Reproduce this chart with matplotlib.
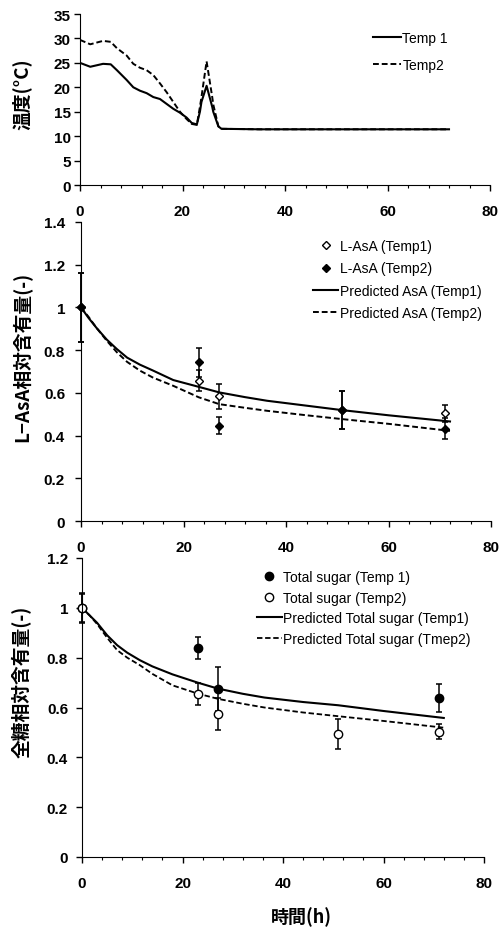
import numpy as np
import matplotlib
matplotlib.use('Agg')
import matplotlib.pyplot as plt
from matplotlib.ticker import MultipleLocator, FormatStrFormatter

plt.rcParams['font.family'] = ['Liberation Sans', 'Noto Sans CJK JP']

# --- temperature history (panel 1) ---
t_temp = [0, 2, 4.5, 6, 7.2, 9.1, 10.4, 11.7, 13, 14.3, 15.6, 16.9, 18.2, 19.5, 20.8, 21.8,
          22.8, 23.4, 23.7, 24.7, 25.8, 26, 27, 27.6, 35, 45, 55, 65, 72]
temp1 = [25, 24.2, 24.8, 24.7, 23.5, 21.5, 20, 19.3, 18.8, 18, 17.6, 16.6, 15.6, 14.8, 13.8, 12.7,
         12.4, 15, 17, 20.3, 16, 15, 12, 11.5, 11.4, 11.4, 11.4, 11.4, 11.4]
temp2 = [29.7, 28.8, 29.5, 29.3, 28, 26.5, 24.8, 24, 23.5, 22.5, 20.8, 19, 17, 15, 13.5, 12.5,
         12.3, 16, 18, 25.3, 18, 16.5, 12, 11.5, 11.4, 11.4, 11.4, 11.4, 11.4]

# --- L-AsA (panel 2) ---
t_obs = [0, 23, 27, 51, 71]
asa1 = [1.0, 0.657, 0.583, 0.52, 0.505]
asa1_err = [0.16, 0.05, 0.06, 0.09, 0.04]
asa2 = [1.0, 0.743, 0.446, 0.52, 0.433]
asa2_err = [0.16, 0.068, 0.04, 0.09, 0.05]

t_pred = [0, 1.5, 3, 5, 7, 9, 11.5, 14, 18, 23, 27, 32, 36.3, 44, 51, 60, 72]
asa_pred1 = [1.0, 0.95, 0.905, 0.85, 0.805, 0.765, 0.732, 0.705, 0.66, 0.628, 0.602, 0.58, 0.563, 0.54, 0.519, 0.495, 0.466]
asa_pred2 = [1.0, 0.955, 0.905, 0.845, 0.79, 0.745, 0.704, 0.672, 0.633, 0.579, 0.547, 0.53, 0.516, 0.495, 0.477, 0.455, 0.422]

# --- total sugar (panel 3) ---
t_sug1 = [0, 23, 27, 71]
sug1 = [1.0, 0.839, 0.673, 0.639]
sug1_err = [0.06, 0.044, 0.088, 0.057]
t_sug2 = [0, 23, 27, 51, 71]
sug2 = [1.0, 0.654, 0.574, 0.495, 0.502]
sug2_err = [0.055, 0.044, 0.063, 0.06, 0.03]

sug_pred1 = [1.0, 0.97, 0.94, 0.89, 0.85, 0.82, 0.79, 0.765, 0.733, 0.70, 0.676, 0.655, 0.64, 0.622, 0.609, 0.586, 0.558]
sug_pred2 = [1.0, 0.97, 0.935, 0.88, 0.83, 0.80, 0.77, 0.735, 0.689, 0.656, 0.635, 0.615, 0.60, 0.58, 0.565, 0.546, 0.519]

fig = plt.figure(figsize=(4.99, 9.28), dpi=100)
ax1 = fig.add_axes([80/499, 1-186/928, 410/499, 171/928])
ax2 = fig.add_axes([81/499, 1-522/928, 410/499, 299/928])
ax3 = fig.add_axes([82/499, 1-858/928, 402/499, 299/928])

jp = ['Noto Sans CJK JP', 'DejaVu Sans']
dash = (0, (3, 1.5))


def style(ax, ymax, ystep, ypad):
    ax.spines['top'].set_visible(False)
    ax.spines['right'].set_visible(False)
    ax.set_xlim(0, 80)
    ax.set_ylim(0, ymax)
    ax.xaxis.set_major_locator(MultipleLocator(20))
    ax.xaxis.set_minor_locator(MultipleLocator(4))
    ax.yaxis.set_major_locator(MultipleLocator(ystep))
    ax.yaxis.set_major_formatter(FormatStrFormatter('%g'))
    ax.tick_params(axis='both', which='major', direction='out', length=4, width=1, labelsize=11)
    ax.tick_params(axis='x', which='minor', direction='out', length=2.5, width=0.8)
    ax.tick_params(axis='x', pad=10)
    ax.tick_params(axis='y', pad=ypad)
    for lab in ax.get_xticklabels() + ax.get_yticklabels():
        lab.set_fontweight('bold')


def errbars(ax, x, y, e):
    _, caps, bars = ax.errorbar(x, y, yerr=e, fmt='none', ecolor='black', elinewidth=1.1,
                                capsize=2, capthick=1.1)
    for a in list(caps) + list(bars):
        a.set_clip_on(False)


# panel 1
ax1.plot(t_temp, temp1, color='black', lw=1.5, label='Temp 1')
ax1.plot(t_temp, temp2, color='black', lw=1.4, ls=dash, label='Temp2')
style(ax1, 35, 5, 2.5)
ax1.set_ylabel('温度(°C)', family=jp, fontweight='bold', fontsize=13.5)
ax1.yaxis.set_label_coords(-0.117, 0.538)
ax1.legend(loc='upper left', bbox_to_anchor=(0.715, 0.90), frameon=False, fontsize=10,
           borderpad=0, borderaxespad=0, handlelength=2.0, handletextpad=0.1, labelspacing=0.9)

# panel 2
errbars(ax2, t_obs, asa2, asa2_err)
errbars(ax2, t_obs, asa1, asa1_err)
ax2.plot(t_pred, asa_pred1, color='black', lw=1.5, label='Predicted AsA (Temp1)')
ax2.plot(t_pred, asa_pred2, color='black', lw=1.4, ls=dash, label='Predicted AsA (Temp2)')
ax2.plot(t_obs, asa1, 'D', ms=4.5, mfc='white', mec='black', mew=1, ls='none',
         label='L-AsA (Temp1)', clip_on=False)
ax2.plot(t_obs, asa2, 'D', ms=4.5, mfc='black', mec='black', ls='none',
         label='L-AsA (Temp2)', clip_on=False)
style(ax2, 1.4, 0.2, 7.5)
ax2.set_ylabel('L\u2212AsA相対含有量(-)', family=jp, fontweight='bold', fontsize=13.5)
ax2.yaxis.set_label_coords(-0.1195, 0.552)
hs, ls_ = ax2.get_legend_handles_labels()
order = [2, 3, 0, 1]
ax2.legend([hs[i] for i in order], [ls_[i] for i in order], loc='upper left',
           bbox_to_anchor=(0.566, 0.943), frameon=False, fontsize=10, borderpad=0, borderaxespad=0,
           handlelength=1.8, handletextpad=0.15, labelspacing=0.6)

# panel 3
errbars(ax3, t_sug2, sug2, sug2_err)
errbars(ax3, t_sug1, sug1, sug1_err)
ax3.plot(t_pred, sug_pred1, color='black', lw=1.5, label='Predicted Total sugar (Temp1)')
ax3.plot(t_pred, sug_pred2, color='black', lw=1.3, ls=dash, label='Predicted Total sugar (Tmep2)')
ax3.plot(t_sug1, sug1, 'o', ms=6, mfc='black', mec='black', ls='none',
         label='Total sugar (Temp 1)', clip_on=False)
ax3.plot(t_sug2, sug2, 'o', ms=6, mfc='white', mec='black', mew=1, ls='none',
         label='Total sugar (Temp2)', clip_on=False)
style(ax3, 1.2, 0.2, 6)
ax3.set_ylabel('全糖相対含有量(-)', family=jp, fontweight='bold', fontsize=13.5)
ax3.yaxis.set_label_coords(-0.124, 0.589)
hs, ls_ = ax3.get_legend_handles_labels()
ax3.legend([hs[i] for i in order], [ls_[i] for i in order], loc='upper left',
           bbox_to_anchor=(0.435, 0.96), frameon=False, fontsize=10, borderpad=0, borderaxespad=0,
           handlelength=1.8, handletextpad=0.1, labelspacing=0.48)

fig.text(301/499, 1-917/928, '時間(h)', family=jp, fontweight='bold', fontsize=13,
         ha='center', va='center')

fig.savefig('out.png', dpi=100)
